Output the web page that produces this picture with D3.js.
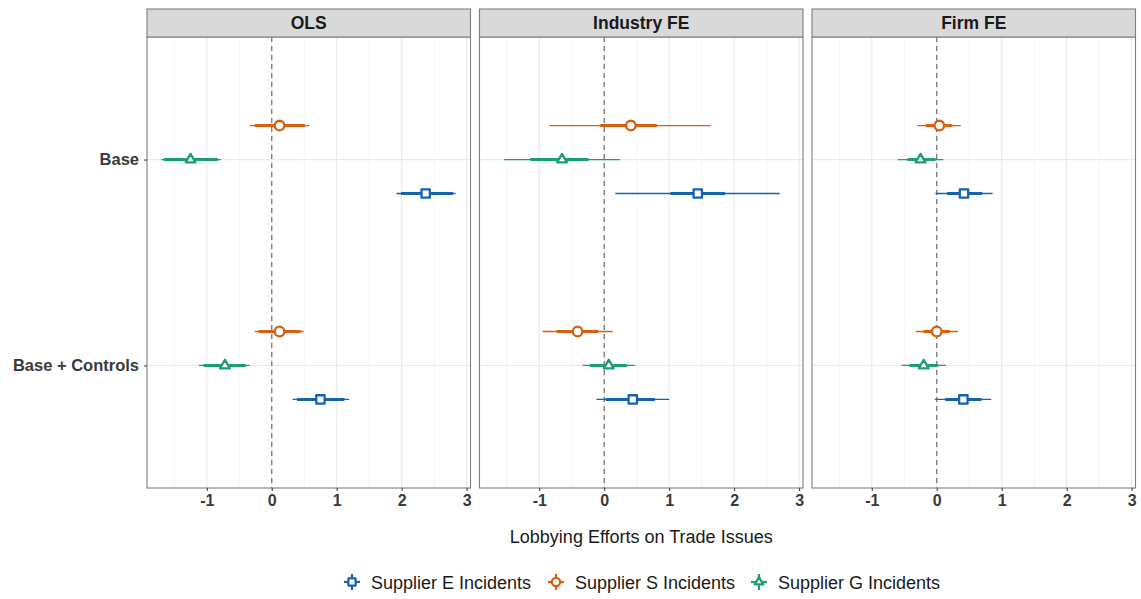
<!DOCTYPE html>
<html>
<head>
<meta charset="utf-8">
<script src="https://cdn.jsdelivr.net/npm/d3@7"></script>
<style>
  html, body { margin: 0; padding: 0; background: #fff; }
  svg { display: block; font-family: "Liberation Sans", Arial, Helvetica, sans-serif; }
</style>
</head>
<body>
<svg id="chart" width="1141" height="599"></svg>
<script>
// Facets, model rows and series
const panels = ["OLS", "Industry FE", "Firm FE"];
const models = ["Base", "Base + Controls"];
const series = ["Supplier E Incidents", "Supplier S Incidents", "Supplier G Incidents"];
const xTicks = [-1, 0, 1, 2, 3];

// Estimates ordered: OLS Base, OLS B+C, Industry Base, Industry B+C, Firm Base, Firm B+C
const estE     = [2.37, 0.75, 1.44, 0.44, 0.42, 0.41];
const outerLoE = [1.92, 0.32, 0.17, -0.12, -0.02, -0.03];
const outerHiE = [2.83, 1.19, 2.70, 1.00, 0.86, 0.84];
const innerLoE = [1.99, 0.39, 1.02, 0.02, 0.16, 0.13];
const innerHiE = [2.79, 1.12, 1.86, 0.78, 0.70, 0.69];

const estS     = [0.12, 0.12, 0.41, -0.41, 0.04, 0.00];
const outerLoS = [-0.34, -0.26, -0.84, -0.95, -0.30, -0.32];
const outerHiS = [0.58, 0.49, 1.64, 0.13, 0.37, 0.33];
const innerLoS = [-0.26, -0.20, -0.06, -0.73, -0.17, -0.20];
const innerHiS = [0.51, 0.44, 0.81, -0.09, 0.24, 0.20];

const estG     = [-1.25, -0.72, -0.65, 0.07, -0.25, -0.20];
const outerLoG = [-1.70, -1.12, -1.54, -0.33, -0.60, -0.54];
const outerHiG = [-0.78, -0.34, 0.24, 0.47, 0.10, 0.14];
const innerLoG = [-1.66, -1.05, -1.14, -0.22, -0.45, -0.42];
const innerHiG = [-0.83, -0.40, -0.24, 0.35, -0.02, 0.02];

const colors = { "Supplier E Incidents": "#1763aa", "Supplier S Incidents": "#d95f0e", "Supplier G Incidents": "#1b9e77" };
const shapes = { "Supplier E Incidents": d3.symbolSquare, "Supplier S Incidents": d3.symbolCircle, "Supplier G Incidents": d3.symbolTriangle };
const shapeSize = { "Supplier E Incidents": 70, "Supplier S Incidents": 72, "Supplier G Incidents": 42 };
// vertical order inside each model row (top to bottom)
const dodgeOrder = ["Supplier S Incidents", "Supplier G Incidents", "Supplier E Incidents"];

const rawSeries = {
  "Supplier E Incidents": [estE, outerLoE, outerHiE, innerLoE, innerHiE],
  "Supplier S Incidents": [estS, outerLoS, outerHiS, innerLoS, innerHiS],
  "Supplier G Incidents": [estG, outerLoG, outerHiG, innerLoG, innerHiG]
};
const rows = [];
series.forEach(s => {
  const [est, oLo, oHi, iLo, iHi] = rawSeries[s];
  panels.forEach((p, pi) => models.forEach((m, mi) => {
    const k = pi * 2 + mi;
    rows.push({ series: s, panel: p, model: m, est: est[k], oLo: oLo[k], oHi: oHi[k], iLo: iLo[k], iHi: iHi[k] });
  }));
});

const svg = d3.select("#chart");
const panelTop = 37, panelBottom = 488, stripTop = 9;
const panelLefts = [147, 479.5, 812], panelW = 323.5;
const axisFont = "'Liberation Sans', Arial, sans-serif";

const x = d3.scaleLinear().domain([-1.92, 3.06]).range([0, panelW]);
const y = d3.scalePoint().domain(models).range([panelTop, panelBottom]).padding(0.595);
const dodge = d3.scalePoint().domain(dodgeOrder).range([-0.165, 0.165]);

panels.forEach((p, pi) => {
  const g = svg.append("g").attr("transform", `translate(${panelLefts[pi]},0)`);

  // minor and major vertical grid
  const minor = d3.range(-1.5, 3.01, 1);
  g.selectAll(".minor").data(minor).join("line")
    .attr("x1", d => x(d)).attr("x2", d => x(d))
    .attr("y1", panelTop).attr("y2", panelBottom)
    .attr("stroke", "#f2f2f2").attr("stroke-width", 0.8);
  g.selectAll(".major").data(xTicks).join("line")
    .attr("x1", d => x(d)).attr("x2", d => x(d))
    .attr("y1", panelTop).attr("y2", panelBottom)
    .attr("stroke", "#ebebeb").attr("stroke-width", 1.2);
  g.selectAll(".hgrid").data(models).join("line")
    .attr("x1", 0).attr("x2", panelW)
    .attr("y1", d => y(d)).attr("y2", d => y(d))
    .attr("stroke", "#ebebeb").attr("stroke-width", 1.2);

  // reference line at zero
  g.append("line")
    .attr("x1", x(0)).attr("x2", x(0)).attr("y1", panelTop).attr("y2", panelBottom)
    .attr("stroke", "#7a7a7a").attr("stroke-width", 1.3).attr("stroke-dasharray", "5,4");

  // intervals and points
  const data = rows.filter(r => r.panel === p);
  const yy = d => y(d.model) + dodge(d.series) * y.step();
  g.selectAll(".outer").data(data).join("line")
    .attr("x1", d => x(d.oLo)).attr("x2", d => x(d.oHi))
    .attr("y1", yy).attr("y2", yy)
    .attr("stroke", d => colors[d.series]).attr("stroke-width", 1.3);
  g.selectAll(".inner").data(data).join("line")
    .attr("x1", d => x(d.iLo)).attr("x2", d => x(d.iHi))
    .attr("y1", yy).attr("y2", yy)
    .attr("stroke", d => colors[d.series]).attr("stroke-width", 3);
  g.selectAll(".pt").data(data).join("path")
    .attr("transform", d => `translate(${x(d.est)},${yy(d)})`)
    .attr("d", d => d3.symbol(shapes[d.series], shapeSize[d.series])())
    .attr("fill", "#fff").attr("stroke", d => colors[d.series])
    .attr("stroke-width", 2.3).attr("stroke-linejoin", "round");

  // panel border
  g.append("rect").attr("x", 0).attr("y", panelTop).attr("width", panelW).attr("height", panelBottom - panelTop)
    .attr("fill", "none").attr("stroke", "#7f7f7f").attr("stroke-width", 1.1);

  // strip
  g.append("rect").attr("x", 0).attr("y", stripTop).attr("width", panelW).attr("height", panelTop - stripTop)
    .attr("fill", "#d9d9d9").attr("stroke", "#7f7f7f").attr("stroke-width", 1.1);
  g.append("text").attr("x", panelW / 2).attr("y", (stripTop + panelTop) / 2 + 6)
    .attr("text-anchor", "middle").attr("font-size", 17.5).attr("font-weight", "bold").attr("fill", "#1a1a1a")
    .text(p);

  // x axis
  const ax = g.append("g").attr("transform", `translate(0,${panelBottom})`)
    .call(d3.axisBottom(x).tickValues(xTicks).tickSize(3).tickPadding(4).tickFormat(d => String(d)));
  ax.select(".domain").remove();
  ax.selectAll("line").attr("stroke", "#333");
  ax.selectAll("text").attr("font-size", 16).attr("font-weight", "bold").attr("fill", "#3a3a3a")
    .attr("font-family", axisFont);

  if (pi === 0) {
    const ay = g.append("g")
      .call(d3.axisLeft(y).tickSize(3).tickPadding(5));
    ay.select(".domain").remove();
    ay.selectAll("line").attr("stroke", "#333");
    ay.selectAll("text").attr("font-size", 16.5).attr("font-weight", "bold").attr("fill", "#3a3a3a")
      .attr("font-family", axisFont);
  }
});

// axis title
svg.append("text").attr("x", (panelLefts[0] + panelLefts[2] + panelW) / 2).attr("y", 543)
  .attr("text-anchor", "middle").attr("font-size", 18).attr("fill", "#1a1a1a")
  .text("Lobbying Efforts on Trade Issues");

// legend
const legendX = [352, 556, 759];
const legendY = 582;
series.forEach((s, i) => {
  const lg = svg.append("g").attr("transform", `translate(${legendX[i]},${legendY})`);
  lg.append("line").attr("x1", -8).attr("x2", 8).attr("y1", 0).attr("y2", 0)
    .attr("stroke", colors[s]).attr("stroke-width", 2.2);
  lg.append("line").attr("x1", 0).attr("x2", 0).attr("y1", -8).attr("y2", 8)
    .attr("stroke", colors[s]).attr("stroke-width", 2.2);
  lg.append("path").attr("d", d3.symbol(shapes[s], shapeSize[s] * 0.75)())
    .attr("fill", "#fff").attr("stroke", colors[s]).attr("stroke-width", 2.2).attr("stroke-linejoin", "round");
  lg.append("text").attr("x", 19).attr("y", 6.5).attr("font-size", 18).attr("fill", "#1a1a1a").text(s);
});
</script>
</body>
</html>
